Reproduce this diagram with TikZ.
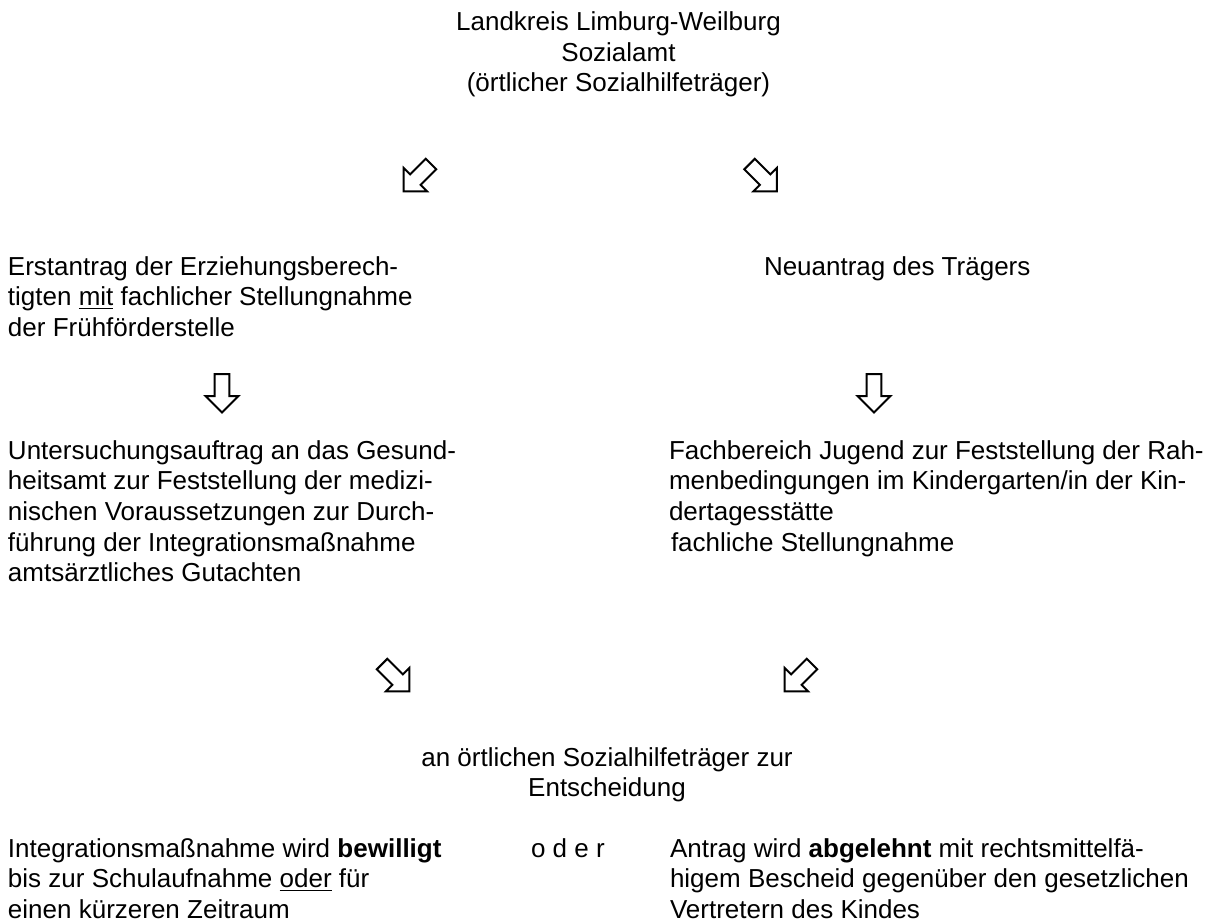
\documentclass[tikz,border=0pt]{standalone}
\usepackage{fontspec}
\setmainfont{Liberation Sans}
\newcommand\bodysize{\fontsize{13pt}{15.35pt}\selectfont}
\newcommand\leftlines[1]{\begin{tabular}[t]{@{}l@{}}#1\end{tabular}}
\newcommand\centerlines[1]{\begin{tabular}[t]{@{}c@{}}#1\end{tabular}}
\tikzset{
  txt/.style={inner sep=0pt, outer sep=0pt, font=\bodysize, anchor=base west},
  ctr/.style={inner sep=0pt, outer sep=0pt, font=\bodysize, anchor=base},
  arrowline/.style={draw=black, line width=1pt, fill=white, line join=miter},
  hollowarrow/.pic={\draw[arrowline] (-7.4,-15.5) -- (7.4,-15.5) -- (7.4,6.5) -- (16.5,6.5) -- (0,23) -- (-16.5,6.5) -- (-7.4,6.5) -- cycle;}
}
\begin{document}
\begin{tikzpicture}[x=0.5pt,y=-0.5pt]
\useasboundingbox (0,0) rectangle (1228,922);
% title
\node[ctr] (title) at (618.5,30.3) {\centerlines{Landkreis Limburg-Weilburg\\Sozialamt\\(örtlicher Sozialhilfeträger)}};
% top diagonal arrows
\pic[rotate=-45] (aTL) at (420,175) {hollowarrow};
\pic[rotate=45] (aTR) at (760.5,175) {hollowarrow};
% second row
\node[txt] (erst) at (8,275) {\leftlines{Erstantrag der Erziehungsberech-\\tigten \underline{mit} fachlicher Stellungnahme\\der Frühförderstelle}};
\node[txt] (neu) at (764,275) {Neuantrag des Trägers};
% down arrows
\pic (aDL) at (222,389.5) {hollowarrow};
\pic (aDR) at (874,389.5) {hollowarrow};
% third row
\node[txt] (unters) at (8,459) {\leftlines{Untersuchungsauftrag an das Gesund-\\heitsamt zur Feststellung der medizi-\\nischen Voraussetzungen zur Durch-\\führung der Integrationsmaßnahme\\amtsärztliches Gutachten}};
\node[txt] (fach) at (669,459) {\leftlines{Fachbereich Jugend zur Feststellung der Rah-\\menbedingungen im Kindergarten/in der Kin-\\dertagesstätte\\\hspace{1pt}fachliche Stellungnahme}};
% bottom diagonal arrows
\pic[rotate=45] (aBL) at (393,675) {hollowarrow};
\pic[rotate=-45] (aBR) at (801,675) {hollowarrow};
% decision
\node[ctr] (entsch) at (607,766) {\centerlines{an örtlichen Sozialhilfeträger zur\\Entscheidung}};
% outcomes
\node[txt] (bew) at (8,857) {\leftlines{Integrationsmaßnahme wird \textbf{bewilligt}\\bis zur Schulaufnahme \underline{oder} für\\einen kürzeren Zeitraum}};
\node[txt] (oder) at (531,857) {o d e r};
\node[txt] (abl) at (670,857) {\leftlines{Antrag wird \textbf{abgelehnt} mit rechtsmittelfä-\\higem Bescheid gegenüber den gesetzlichen\\Vertretern des Kindes}};
\end{tikzpicture}
\end{document}
